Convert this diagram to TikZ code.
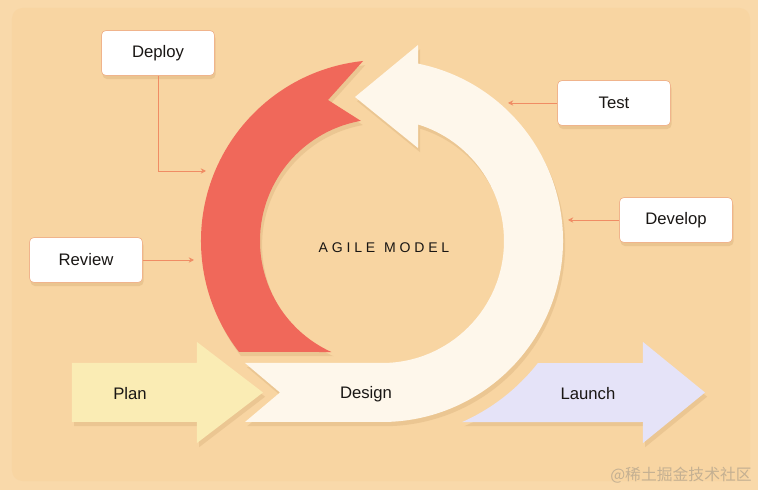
\documentclass[tikz,border=0pt]{standalone}
\usepackage{fontspec}
\setmainfont{Liberation Sans}
\newfontfamily\cjkfont{Noto Sans CJK SC}
\newfontfamily\spacedfont[LetterSpace=27]{Liberation Sans}
\usetikzlibrary{arrows.meta, positioning, shadows}
\definecolor{peach}{RGB}{248,213,162}
\definecolor{peachedge}{RGB}{249,217,170}
\definecolor{ringred}{RGB}{240,104,90}
\definecolor{ringcream}{RGB}{254,247,235}
\definecolor{planyellow}{RGB}{250,236,180}
\definecolor{launchlilac}{RGB}{229,227,248}
\definecolor{linkorange}{RGB}{240,140,100}
\definecolor{boxedge}{RGB}{240,180,140}
\definecolor{inkdark}{RGB}{25,22,20}
\definecolor{markgray}{RGB}{196,176,146}
\definecolor{shadowbrown}{RGB}{150,100,40}

\begin{document}
\begin{tikzpicture}[x=0.02cm, y=0.02cm,
  stagebox/.style={draw=boxedge, line width=0.4pt, fill=white, rounded corners=2.5pt,
    minimum width=2.26cm, minimum height=0.9cm, font=\fontsize{9.5}{11}\selectfont, text=inkdark,
    drop shadow={fill=shadowbrown, opacity=0.14, shadow xshift=0.6pt, shadow yshift=-2pt}},
  stagetext/.style={font=\fontsize{9.5}{11}\selectfont, text=inkdark},
  link/.style={linkorange, line width=0.5pt, -{Stealth[length=3pt, width=3pt]}},
  soft/.style={drop shadow={fill=shadowbrown, opacity=0.13, shadow xshift=1.2pt, shadow yshift=-2.4pt}}]
  % 画布：原点在环心，1 单位 = 1 像素
  \useasboundingbox (-382,-249) rectangle (376,241);
  \fill[peachedge] (-382,-249) rectangle (376,241);
  \fill[peach, rounded corners=6pt] (-370,-240) rectangle (368,233);

  % Launch 箭头（在白环下面）
  \fill[launchlilac, soft] (-66.1:198) arc[start angle=-66.1, end angle=-38.1, radius=198]
    -- (261,-122) -- (261,-101) -- (323,-151.5) -- (261,-202) -- (261,-181) -- cycle;

  % 白色环形箭头 + Design 横条
  \fill[ringcream, soft] (-137,-122) -- (0,-122) arc[start angle=-90, end angle=72.8, radius=122]
    -- (36,93) -- (-27,144) -- (36,196) -- (78.5:181) arc[start angle=78.5, end angle=-90, radius=181]
    -- (-137,-181) -- (-102,-151.5) -- cycle;

  % 红色弧（燕尾）
  \fill[ringred, soft] (96:181) arc[start angle=96, end angle=217.8, radius=181]
    -- (245.5:122) arc[start angle=245.5, end angle=100, radius=122] -- (-54,141) -- cycle;

  % Plan 箭头
  \fill[planyellow, soft] (-310,-122) -- (-185,-122) -- (-185,-101) -- (-119,-151.5)
    -- (-185,-202) -- (-185,-181) -- (-310,-181) -- cycle;

  % 箭头上的文字
  \node[stagetext] (plan) at (-252,-153) {Plan};
  \node[stagetext] (design) at (-16,-153) {Design};
  \node[stagetext] (launch) at (206,-153) {Launch};
  \node[font=\spacedfont\fontsize{8}{10}\selectfont, text=inkdark] (title) at (2,-7) {AGILE\hspace{5pt}MODEL};

  % 阶段标签
  \node[stagebox] (deploy) at (-224,188) {Deploy};
  \node[stagebox] (test) at (232,138) {Test};
  \node[stagebox] (develop) at (294,21) {Develop};
  \node[stagebox] (review) at (-296,-19) {Review};

  % 引线
  \coordinate (deployin) at (-176,70);
  \coordinate (testin) at (126,138);
  \coordinate (developin) at (186,21);
  \coordinate (reviewin) at (-188,-19);
  \draw[link] (deploy.south) |- (deployin);
  \draw[link] (test.west) -- (testin);
  \draw[link] (develop.west) -- (developin);
  \draw[link] (review.east) -- (reviewin);

  % 水印
  \node[font=\cjkfont\fontsize{9}{11}\selectfont, text=markgray] (mark) at (299,-234) {@稀土掘金技术社区};
\end{tikzpicture}
\end{document}
